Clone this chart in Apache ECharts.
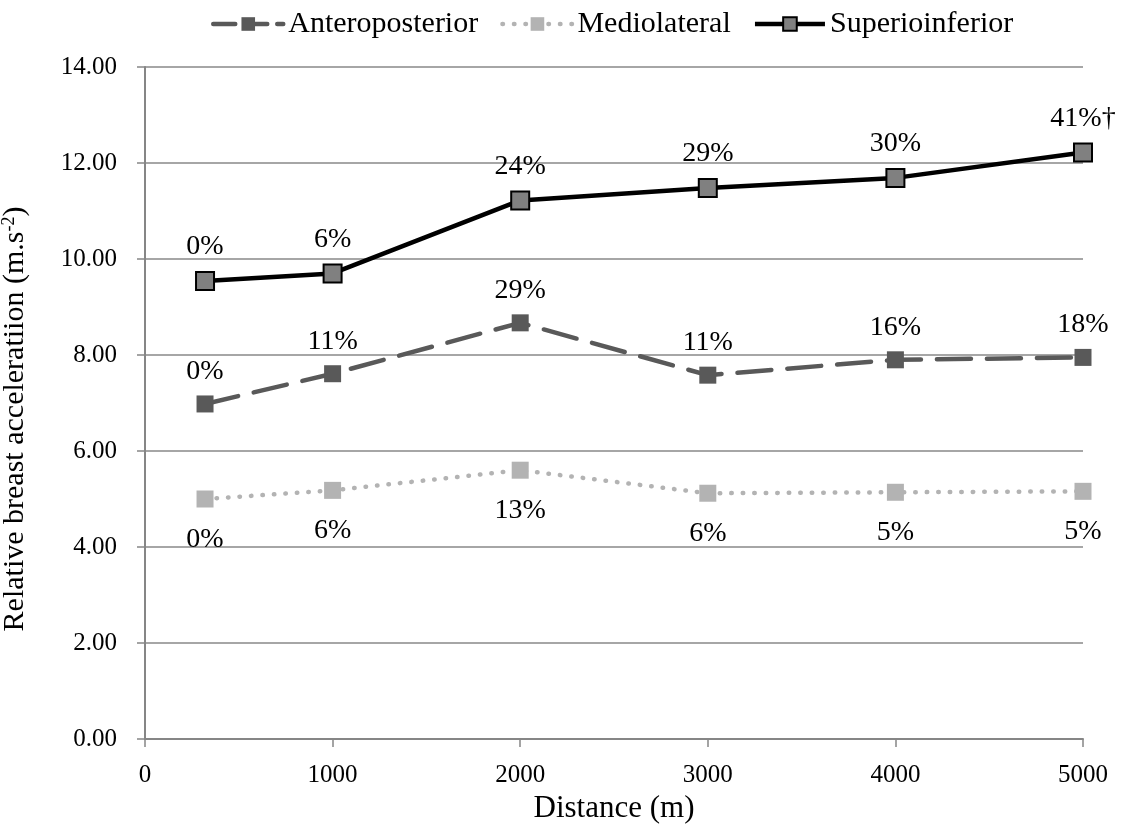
<!DOCTYPE html>
<html>
<head>
<meta charset="utf-8">
<script src="https://cdn.jsdelivr.net/npm/echarts@6/dist/echarts.min.js"></script>
<style>
  html, body { margin: 0; padding: 0; background: #fff; }
  #chart { width: 1123px; height: 837px; }
</style>
</head>
<body>
<div id="chart"></div>
<script>
// distances (m) of each measurement
const distances = [320, 1000, 2000, 3000, 4000, 5000]

// relative breast acceleration (m.s-2)
const anteroposterior = [6.98, 7.61, 8.67, 7.58, 7.90, 7.95]
const mediolateral = [5.00, 5.18, 5.60, 5.12, 5.14, 5.16]
const superioinferior = [9.54, 9.70, 11.22, 11.48, 11.69, 12.22]

// percentage change labels
const apLabels = ['0%', '11%', '29%', '11%', '16%', '18%']
const mlLabels = ['0%', '6%', '13%', '6%', '5%', '5%']
const siLabels = ['0%', '6%', '24%', '29%', '30%', '41%†']

const yTicks = { min: 0, max: 14, interval: 2 }
const xTicks = { min: 0, max: 5000, interval: 1000 }

const font = "'Liberation Serif', 'Times New Roman', serif"

const apLine = { color: '#595959', width: 4.5, type: [34, 16], cap: 'round' }
const mlLine = { color: '#b3b3b3', width: 4.5, type: [0.5, 11], cap: 'round' }
const siLine = { color: '#000', width: 4.5 }

function pairs(ys) {
  return distances.map((d, i) => [d, ys[i]])
}

function pctLabel(labels, pos, dist) {
  return {
    show: true,
    position: pos,
    distance: dist,
    color: '#000',
    fontFamily: font,
    fontSize: 28,
    formatter: p => labels[p.dataIndex]
  }
}

const chart = echarts.init(document.getElementById('chart'))

chart.setOption({
  backgroundColor: '#fff',
  animation: false,
  textStyle: { fontFamily: font },
  legend: {
    top: 4,
    left: 206,
    itemWidth: 70,
    itemHeight: 17,
    itemGap: 22,
    textStyle: { color: '#000', fontSize: 30, fontFamily: font },
    data: [
      { name: 'Anteroposterior', lineStyle: { color: '#595959', width: 4.5, type: [22, 10], cap: 'round' } },
      { name: 'Mediolateral', lineStyle: mlLine },
      { name: 'Superioinferior', lineStyle: siLine }
    ]
  },
  grid: { left: 145, right: 40, top: 67, bottom: 98, outerBoundsMode: 'none' },
  xAxis: {
    type: 'value',
    min: xTicks.min,
    max: xTicks.max,
    interval: xTicks.interval,
    name: 'Distance (m)',
    nameLocation: 'middle',
    nameGap: 54,
    nameTextStyle: { color: '#000', fontSize: 31, fontFamily: font },
    axisLine: { lineStyle: { color: '#868686', width: 2 } },
    axisTick: { show: true, length: 8, lineStyle: { color: '#868686', width: 1.5 } },
    axisLabel: { color: '#000', fontSize: 25, fontFamily: font, margin: 24, formatter: v => String(v) },
    splitLine: { show: false }
  },
  yAxis: {
    type: 'value',
    min: yTicks.min,
    max: yTicks.max,
    interval: yTicks.interval,
    name: '{t|Relative breast acceleratiion (m.s}{s|-2}{t|)}',
    nameLocation: 'middle',
    nameGap: 115,
    nameTextStyle: {
      padding: [0, 32, 0, 0],
      rich: {
        t: { color: '#000', fontSize: 30, fontFamily: font },
        s: { color: '#000', fontSize: 18, fontFamily: font, verticalAlign: 'top', padding: [0, 0, 10, 0] }
      }
    },
    axisLine: { show: true, lineStyle: { color: '#868686', width: 2 } },
    axisTick: { show: true, length: 8, lineStyle: { color: '#868686', width: 1.5 } },
    axisLabel: {
      color: '#000', fontSize: 25, fontFamily: font, margin: 28,
      formatter: v => v.toFixed(2)
    },
    splitLine: { lineStyle: { color: '#898989', width: 1.5 } }
  },
  series: [
    {
      name: 'Anteroposterior',
      type: 'line',
      data: pairs(anteroposterior),
      symbol: 'rect',
      symbolSize: 17,
      itemStyle: { color: '#595959' },
      lineStyle: apLine,
      label: pctLabel(apLabels, 'top', 10),
      z: 3
    },
    {
      name: 'Mediolateral',
      type: 'line',
      data: pairs(mediolateral),
      symbol: 'rect',
      symbolSize: 17,
      itemStyle: { color: '#b3b3b3' },
      lineStyle: mlLine,
      label: pctLabel(mlLabels, 'bottom', 18),
      z: 2
    },
    {
      name: 'Superioinferior',
      type: 'line',
      data: pairs(superioinferior),
      symbol: 'rect',
      symbolSize: 18,
      itemStyle: { color: '#808080', borderColor: '#000', borderWidth: 2 },
      lineStyle: siLine,
      label: pctLabel(siLabels, 'top', 10),
      z: 4
    }
  ]
})
</script>
</body>
</html>
